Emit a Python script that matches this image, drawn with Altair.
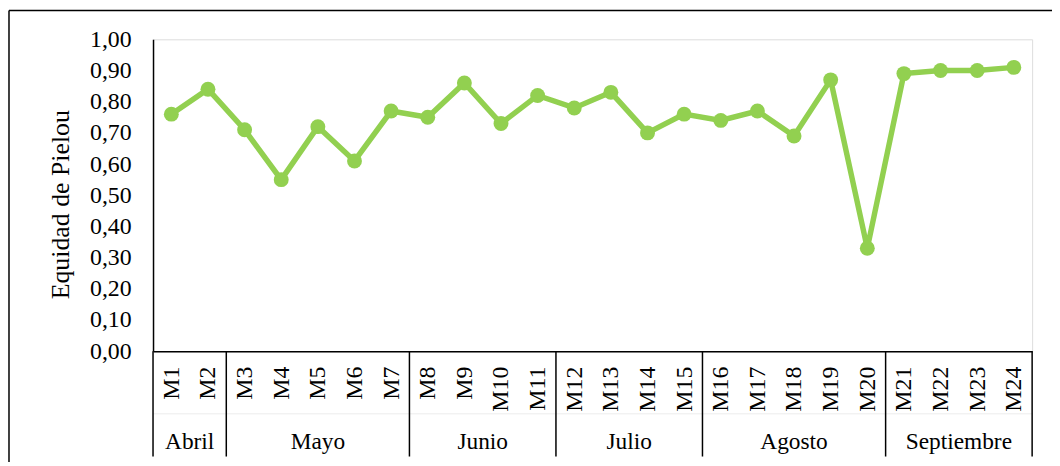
import altair as alt
import pandas as pd

samples = ["M1", "M2", "M3", "M4", "M5", "M6", "M7", "M8", "M9", "M10", "M11", "M12",
           "M13", "M14", "M15", "M16", "M17", "M18", "M19", "M20", "M21", "M22", "M23", "M24"]
pielou = [0.76, 0.84, 0.71, 0.55, 0.72, 0.61, 0.77, 0.75, 0.86, 0.73, 0.82, 0.78,
          0.83, 0.70, 0.76, 0.74, 0.77, 0.69, 0.87, 0.33, 0.89, 0.90, 0.90, 0.91]
month_names = ["Abril", "Mayo", "Junio", "Julio", "Agosto", "Septiembre"]
month_counts = [2, 5, 4, 4, 5, 4]
y_ticks = [0.0, 0.1, 0.2, 0.3, 0.4, 0.5, 0.6, 0.7, 0.8, 0.9, 1.0]

FONT = "Liberation Serif"
GREEN = "#92D050"
W, H = 885, 314
FS = 24

df = pd.DataFrame({"sample": samples,
                   "pos": [i + 0.5 for i in range(len(samples))],
                   "value": pielou})

bounds = [0]
for c in month_counts:
    bounds.append(bounds[-1] + c)
df_bounds = pd.DataFrame({"b": bounds})
df_months = pd.DataFrame({"month": month_names,
                          "mid": [(bounds[i] + bounds[i + 1]) / 2 for i in range(len(month_names))]})
one = pd.DataFrame({"a": [0]})

xscale = alt.Scale(domain=[0, len(samples)], nice=False, zero=False)
yscale = alt.Scale(domain=[0, 1], nice=False)

x_axis = alt.Axis(values=list(df["pos"]), labelExpr="'M' + (datum.value + 0.5)",
                  labelAngle=-90, labelPadding=15, ticks=False, grid=False, title=None,
                  labelFont=FONT, labelFontSize=FS, labelColor="black", labelOverlap=False,
                  domainColor="black", domainWidth=1.5, labelFlush=False)
y_axis = alt.Axis(values=y_ticks, labelExpr="replace(format(datum.value, '.2f'), '.', ',')",
                  ticks=False, grid=False, labelPadding=22, title="Equidad de Pielou",
                  titleFont=FONT, titleFontSize=26, titleFontWeight="normal", titleColor="black",
                  titlePadding=16, titleY=166, labelFont=FONT, labelFontSize=FS, labelColor="black",
                  labelOverlap=False, labelFlush=False,
                  domainColor="black", domainWidth=1.5)

line = alt.Chart(df).mark_line(color=GREEN, strokeWidth=5.5).encode(
    x=alt.X("pos:Q", scale=xscale, axis=x_axis),
    y=alt.Y("value:Q", scale=yscale, axis=y_axis),
)
points = alt.Chart(df).mark_circle(color=GREEN, size=225, opacity=1).encode(
    x=alt.X("pos:Q", scale=xscale, axis=x_axis),
    y=alt.Y("value:Q", scale=yscale, axis=y_axis),
)
faint = alt.Chart(one).mark_rule(color="#ececec", strokeWidth=1).encode(
    x=alt.value(0), x2=alt.value(W), y=alt.value(377))
seps = alt.Chart(df_bounds).mark_rule(color="black", strokeWidth=1.5).encode(
    x=alt.X("b:Q", scale=xscale, axis=x_axis), y=alt.value(H), y2=alt.value(420))
mlabels = alt.Chart(df_months).mark_text(font=FONT, fontSize=23.5, color="black",
                                        baseline="middle", align="center").encode(
    x=alt.X("mid:Q", scale=xscale, axis=x_axis), y=alt.value(405), text="month:N")
frame_left = alt.Chart(one).mark_rule(color="black", strokeWidth=1.5).encode(
    x=alt.value(-145), y=alt.value(-29), y2=alt.value(440))
frame_top = alt.Chart(one).mark_rule(color="black", strokeWidth=1.5).encode(
    x=alt.value(-145), x2=alt.value(920), y=alt.value(-29))

chart = alt.layer(line, points, faint, seps, mlabels, frame_left, frame_top).properties(
    width=W, height=H,
    autosize=alt.AutoSizeParams(type="none"),
    padding={"left": 146, "top": 30, "right": 20, "bottom": 110},
).configure_view(stroke=None).configure(background="white")

chart.save("out.html", embed_options={"renderer": "svg", "actions": False})
